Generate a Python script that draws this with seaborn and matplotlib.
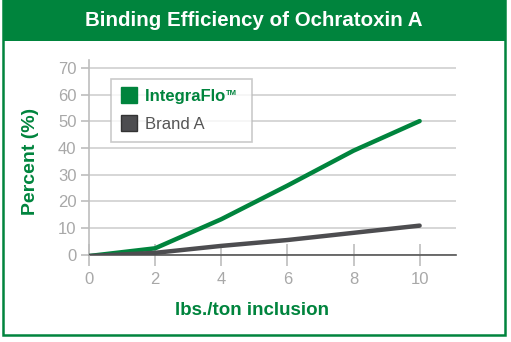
import matplotlib
matplotlib.use("Agg")
import matplotlib.pyplot as plt
import seaborn as sns
import pandas as pd
from matplotlib.lines import Line2D
from matplotlib.patches import Rectangle

# Data
inclusion = [0, 2, 4, 6, 8, 10]
integraflo = [-0.5, 2.4, 13.3, 25.9, 39.0, 50.1]
brand_a = [-0.5, 0.7, 3.3, 5.5, 8.2, 10.9]
series_names = ["IntegraFlo\u2122", "Brand A"]
y_ticks = [0, 10, 20, 30, 40, 50, 60, 70]
x_ticks = [0, 2, 4, 6, 8, 10]

GREEN = "#00843D"
DARK = "#4d4d50"
TICKGRAY = "#a8a8a8"
GRID = "#cfcfcf"

df = pd.DataFrame({
    "x": inclusion * 2,
    "y": integraflo + brand_a,
    "series": [series_names[0]] * len(inclusion) + [series_names[1]] * len(inclusion),
})

sns.set_theme(style="white")
FONT = ["Liberation Sans", "DejaVu Sans"]
plt.rcParams["font.family"] = FONT

fig = plt.figure(figsize=(5.11, 3.42), dpi=100)
W, H = 511, 342

# Frame and header
fig.patches.append(Rectangle((3 / W, 7 / H), 502 / W, 1 - 7 / H, transform=fig.transFigure,
                             facecolor="white", edgecolor=GREEN, linewidth=1.8, zorder=-2))
fig.patches.append(Rectangle((3 / W, 1 - 41 / H), 502 / W, 41 / H, transform=fig.transFigure,
                             facecolor=GREEN, edgecolor=GREEN, linewidth=0, zorder=-1))
fig.text(254 / W, 1 - 21 / H, "Binding Efficiency of Ochratoxin A", color="white",
         fontsize=14.8, fontweight="bold", ha="center", va="center")

ax = fig.add_axes([89 / W, 1 - 254.7 / H, (456 - 89) / W, (254.7 - 60) / H])
ax.patch.set_alpha(0)
sns.lineplot(data=df, x="x", y="y", hue="series", palette=[GREEN, DARK],
             linewidth=3.2, ax=ax, legend=False, zorder=3)

ax.set_xlim(0, 11.1)
ax.set_ylim(0, 73)
ax.set_yticks(y_ticks)
ax.set_xticks(x_ticks)
ax.yaxis.grid(True, color=GRID, linewidth=1.2)
ax.set_axisbelow(True)
for s in ["top", "right"]:
    ax.spines[s].set_visible(False)
ax.spines["left"].set_color("#bdbdbd")
ax.spines["left"].set_linewidth(1.2)
ax.spines["bottom"].set_color("#555555")
ax.spines["bottom"].set_linewidth(1.2)
ax.spines["bottom"].set_zorder(2)
ax.tick_params(axis="y", length=6, width=1.2, color="#bdbdbd", labelcolor=TICKGRAY,
               labelsize=12, pad=3, left=True)
ax.tick_params(axis="x", direction="inout", length=16, width=1.2, color="#bdbdbd",
               labelcolor=TICKGRAY, labelsize=12, pad=4.5, bottom=True)

ax.set_xlabel("lbs./ton inclusion", color=GREEN, fontsize=13.5, fontweight="bold")
ax.xaxis.set_label_coords((252 - 89) / (456 - 89), -0.245)
ax.set_ylabel("Percent (%)", color=GREEN, fontsize=14, fontweight="bold")
ax.yaxis.set_label_coords(-0.135, 0.48)

# Legend: brand name with a small trademark sign drawn separately
main_name = series_names[0].replace("\u2122", "")
handles = [Line2D([], [], marker="s", linestyle="none", markersize=12, color=GREEN),
           Line2D([], [], marker="s", linestyle="none", markersize=12, color=DARK,
                  markeredgecolor="#333333")]
leg = ax.legend(handles, [main_name + "\u2002\u2002", series_names[1]], loc="upper left",
                bbox_to_anchor=(0.06, 0.902), borderaxespad=0, frameon=True,
                fancybox=False, fontsize=12, handletextpad=0.45, borderpad=0.6,
                labelspacing=0.75, handlelength=1.0)
leg.get_frame().set_edgecolor("#bdbdbd")
leg.get_frame().set_linewidth(1.2)
texts = leg.get_texts()
texts[0].set_color(GREEN)
texts[0].set_fontweight("bold")
texts[1].set_color("#555555")

fig.canvas.draw()
bb = texts[0].get_window_extent()
tmp = fig.text(0, 0, main_name, fontsize=12, fontweight="bold")
w = tmp.get_window_extent(renderer=fig.canvas.get_renderer()).width
tmp.remove()
fig.text((bb.x0 + w + 1) / W, (bb.y1 - 1) / H, "TM", color=GREEN, fontsize=5.5,
         fontweight="bold", ha="left", va="top")

fig.savefig("out.png", dpi=100)
